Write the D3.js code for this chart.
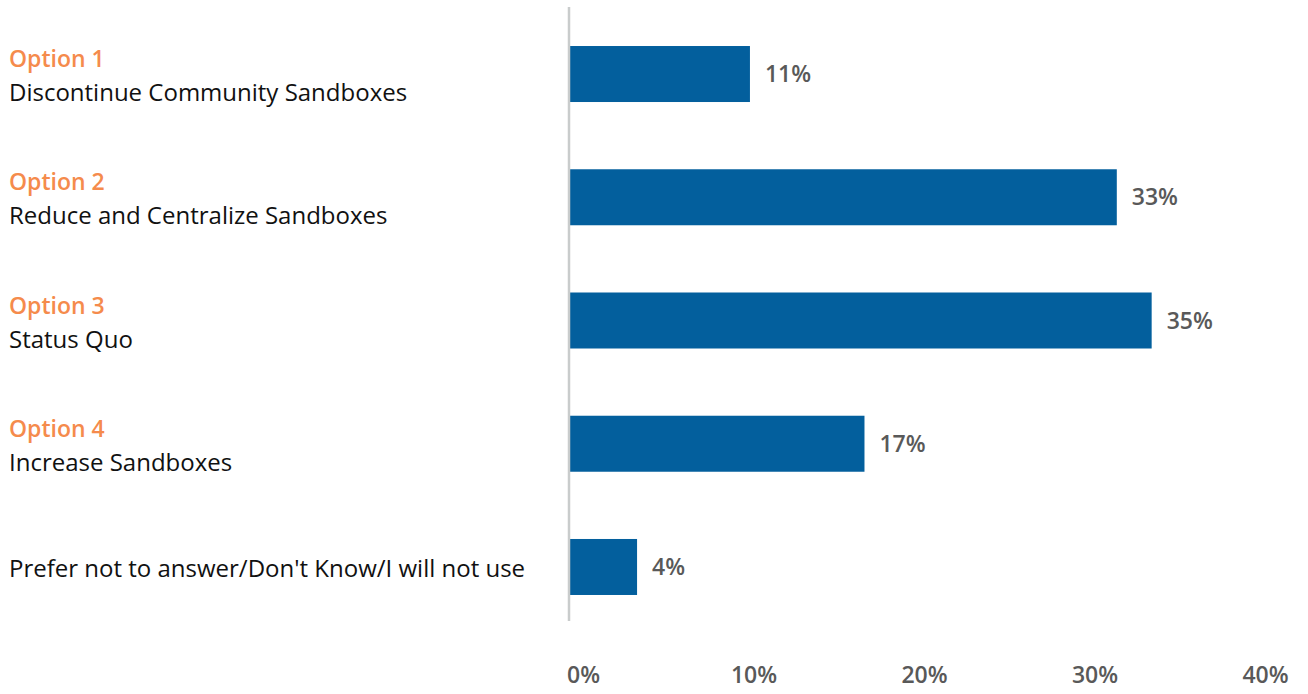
<!DOCTYPE html>
<html>
<head>
<meta charset="utf-8">
<script src="https://cdn.jsdelivr.net/npm/d3@7"></script>
<style>
  body { margin: 0; background: #fff; }
  svg text { font-family: "Open Sans", "Noto Sans", sans-serif; }
</style>
</head>
<body>
<div id="chart"></div>
<script>
// data
var optionTitles = ["Option 1", "Option 2", "Option 3", "Option 4", ""]
var descriptions = ["Discontinue Community Sandboxes", "Reduce and Centralize Sandboxes",
  "Status Quo", "Increase Sandboxes", "Prefer not to answer/Don't Know/I will not use"]
var values = [10.9, 33.0, 35.1, 17.8, 4.1]
var valueLabels = ["11%", "33%", "35%", "17%", "4%"]
var ticks = [0, 10, 20, 30, 40]

var width = 1308, height = 694

var svg = d3.select("#chart").append("svg")
  .attr("width", width)
  .attr("height", height)

// bar scale (zero at the vertical axis line)
var x = d3.scaleLinear().domain([0, 40]).range([569, 1233])
// tick label positions along the bottom
var xAxis = d3.scaleLinear().domain([0, 40]).range([583, 1265])

var y = d3.scaleBand()
  .domain(d3.range(descriptions.length))
  .range([12.4, 628.6])
  .paddingInner(0.5456)
  .paddingOuter(0.2728)

// bars
svg.selectAll("rect.bar")
  .data(values)
  .join("rect")
  .attr("class", "bar")
  .attr("x", x(0))
  .attr("y", function (d, i) { return y(i) })
  .attr("width", function (d) { return x(d) - x(0) })
  .attr("height", y.bandwidth())
  .attr("fill", "#035f9d")

// vertical axis line
svg.append("line")
  .attr("x1", x(0)).attr("x2", x(0))
  .attr("y1", 7).attr("y2", 621)
  .attr("stroke", "#c9cccc")
  .attr("stroke-width", 2.5)

// value labels
svg.selectAll("text.val")
  .data(values)
  .join("text")
  .attr("class", "val")
  .attr("x", function (d) { return x(d) + 15 })
  .attr("y", function (d, i) { return y(i) + y.bandwidth() / 2 + 8 })
  .attr("font-size", 23)
  .attr("font-weight", 600)
  .attr("fill", "#595959")
  .text(function (d, i) { return valueLabels[i] })

// category labels on the left
var cats = svg.selectAll("g.cat")
  .data(descriptions)
  .join("g")
  .attr("class", "cat")
  .attr("transform", function (d, i) { return "translate(9," + (y(i) + y.bandwidth() / 2) + ")" })

cats.append("text")
  .attr("y", -7)
  .attr("font-size", 23)
  .attr("font-weight", 600)
  .attr("fill", "#f58b4c")
  .text(function (d, i) { return optionTitles[i] })

cats.append("text")
  .attr("y", function (d, i) { return optionTitles[i] ? 27 : 10 })
  .attr("font-size", 24)
  .attr("fill", "#111")
  .text(function (d) { return d })

// bottom tick labels (no axis line)
var axis = svg.append("g")
  .attr("transform", "translate(0,664)")
  .call(d3.axisBottom(xAxis).tickValues(ticks).tickSize(0).tickFormat(function (d) { return d + "%" }))
axis.select(".domain").remove()
axis.selectAll("text")
  .attr("font-size", 23)
  .attr("font-weight", 600)
  .attr("fill", "#595959")
  .style("font-family", "'Open Sans', sans-serif")
</script>
</body>
</html>
